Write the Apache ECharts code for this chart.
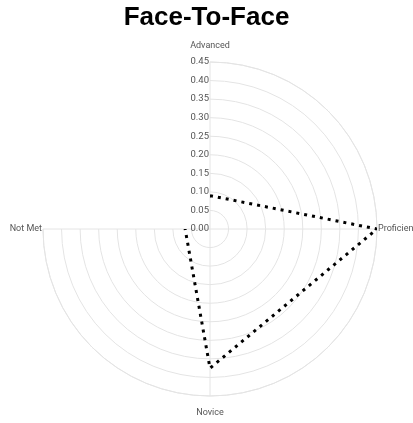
<!DOCTYPE html>
<html><head><meta charset="utf-8">
<script src="https://cdn.jsdelivr.net/npm/echarts@6/dist/echarts.min.js"></script>
<style>html,body{margin:0;padding:0;background:#fff}#c{width:413px;height:423px}</style>
</head><body><div id="c"></div>
<script>
const categories = ['Advanced', 'Proficient', 'Novice', 'Not Met'];
const values = [0.09, 0.45, 0.375, 0.067];
const tickMin = 0, tickMax = 0.45, tickStep = 0.05;

const chart = echarts.init(document.getElementById('c'));
const lineData = categories.map((c, i) => [values[i], c]);
lineData.push([values[0], categories[0]]);
const labelFont = 'Roboto, Liberation Sans';
chart.setOption({
  animation: false,
  title: {text: 'Face-To-Face', left: 'center', top: 0,
    textStyle: {fontFamily: 'Liberation Sans, Arial', fontSize: 26, fontWeight: 'bold', color: '#000'}},
  polar: {center: [210, 229], radius: 167},
  angleAxis: {
    type: 'category', data: categories, startAngle: 90, clockwise: true, boundaryGap: false,
    axisLine: {show: true, lineStyle: {color: '#e4e4e4', width: 1}},
    axisTick: {show: false},
    axisLabel: {show: true, margin: 1, color: '#555', fontSize: 9, fontFamily: labelFont,
      formatter: (v, i) => (i === 0 ? '{t|' + v + '}' : i === 2 ? '{b|' + v + '}' : '{s|' + v + '}'),
      rich: {
        t: {padding: [0, 0, 11, 0], fontSize: 9, color: '#555', fontFamily: labelFont},
        b: {padding: [11, 0, 0, 0], fontSize: 9, color: '#555', fontFamily: labelFont},
        s: {fontSize: 9, color: '#555', fontFamily: labelFont}
      }},
    splitLine: {show: true, lineStyle: {color: '#e4e4e4', width: 1}}
  },
  radiusAxis: {
    type: 'value', min: tickMin, max: tickMax, interval: tickStep,
    axisLine: {show: false}, axisTick: {show: false},
    axisLabel: {show: true, margin: 1, color: '#555', fontSize: 9.5, fontFamily: labelFont,
      padding: [0, 0, 4, 0],
      formatter: v => v.toFixed(2)},
    splitLine: {show: true, lineStyle: {color: '#e4e4e4', width: 1}}
  },
  series: [{
    type: 'line', coordinateSystem: 'polar', data: lineData, symbol: 'none',
    lineStyle: {color: '#000', width: 3, type: [3, 5]}
  }]
});
</script></body></html>
